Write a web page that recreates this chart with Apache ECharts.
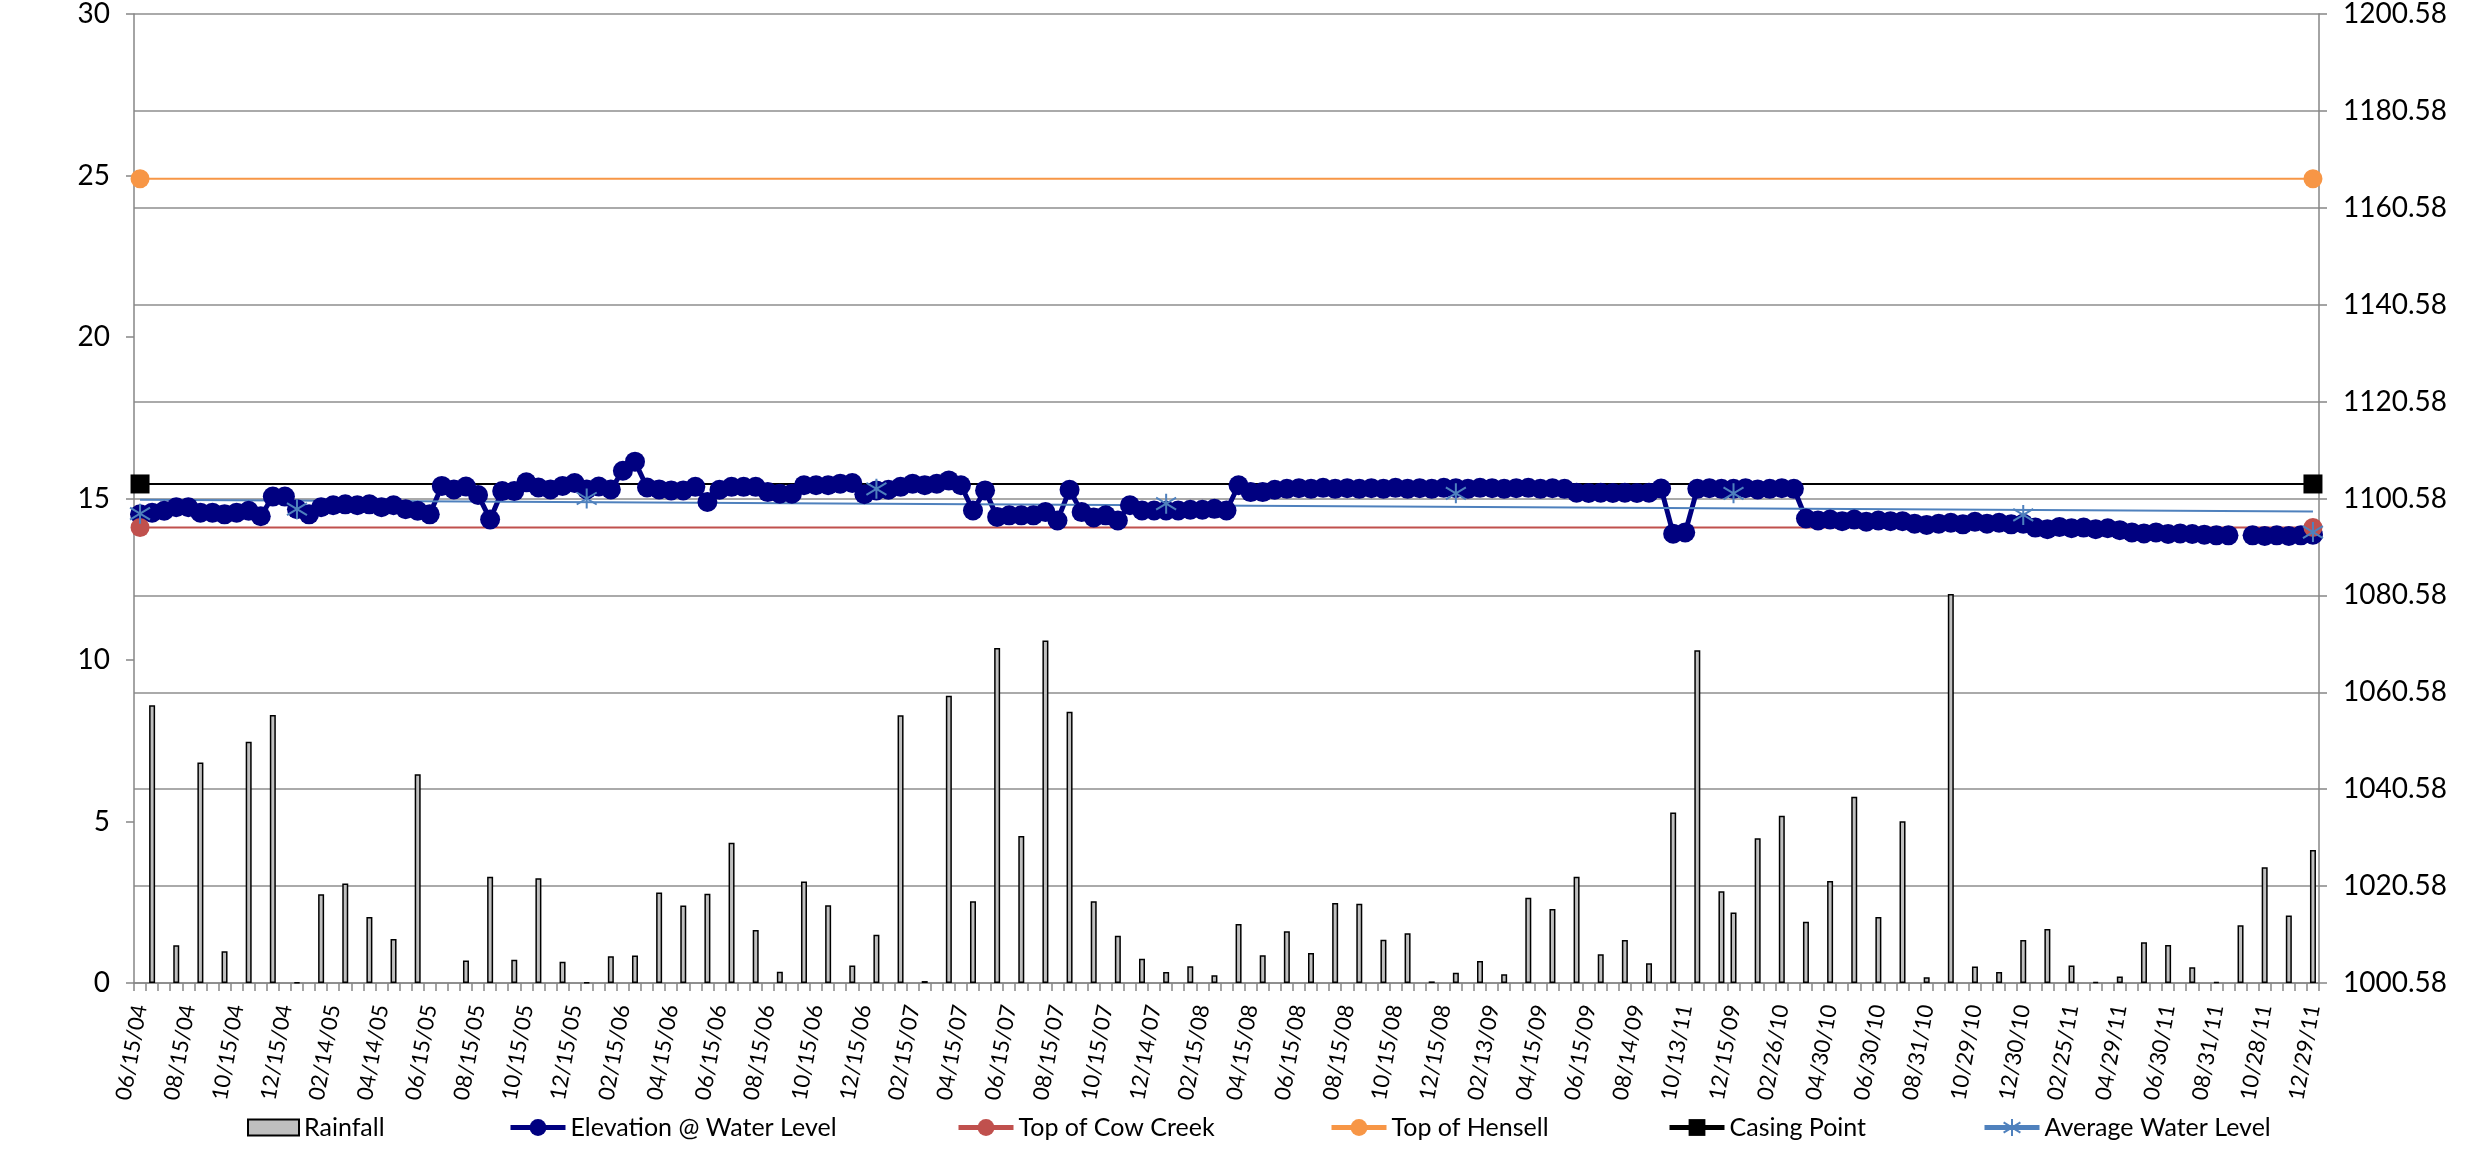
<!DOCTYPE html>
<html><head><meta charset="utf-8">
<script src="https://cdn.jsdelivr.net/npm/echarts@6/dist/echarts.min.js"></script>
<style>html,body{margin:0;padding:0;background:#fff}#c{width:2481px;height:1175px}</style>
</head><body><div id="c"></div>
<script>
const dates = [
"06/15/04","06/30/04","07/15/04","07/30/04","08/15/04","08/31/04","09/15/04","09/30/04",
"10/15/04","10/29/04","11/15/04","11/30/04","12/15/04","12/30/04","01/14/05","01/31/05",
"02/14/05","02/28/05","03/15/05","03/31/05","04/14/05","04/29/05","05/13/05","05/31/05",
"06/15/05","06/30/05","07/15/05","07/29/05","08/15/05","08/31/05","09/15/05","09/30/05",
"10/15/05","10/31/05","11/15/05","11/30/05","12/15/05","12/30/05","01/13/06","01/31/06",
"02/15/06","02/28/06","03/15/06","03/31/06","04/15/06","04/28/06","05/15/06","05/31/06",
"06/15/06","06/30/06","07/14/06","07/31/06","08/15/06","08/31/06","09/15/06","09/29/06",
"10/15/06","10/31/06","11/15/06","11/30/06","12/15/06","12/29/06","01/15/07","01/31/07",
"02/15/07","02/28/07","03/15/07","03/30/07","04/15/07","04/30/07","05/15/07","05/31/07",
"06/15/07","06/29/07","07/13/07","07/31/07","08/15/07","08/31/07","09/14/07","09/28/07",
"10/15/07","10/31/07","11/15/07","11/30/07","12/14/07","12/31/07","01/15/08","01/31/08",
"02/15/08","02/29/08","03/14/08","03/31/08","04/15/08","04/30/08","05/15/08","05/30/08",
"06/15/08","06/30/08","07/15/08","07/31/08","08/15/08","08/29/08","09/15/08","09/30/08",
"10/15/08","10/31/08","11/14/08","11/28/08","12/15/08","12/31/08","01/15/09","01/30/09",
"02/13/09","02/27/09","03/13/09","03/31/09","04/15/09","04/30/09","05/15/09","05/29/09",
"06/15/09","06/30/09","07/15/09","07/31/09","08/14/09","08/31/09","09/15/09","09/30/09",
"10/13/11","10/30/09","11/13/09","11/30/09","12/15/09","12/31/09","01/15/10","01/29/10",
"02/26/10","03/15/10","03/31/10","04/15/10","04/30/10","05/14/10","05/28/10","06/15/10",
"06/30/10","07/15/10","07/30/10","08/13/10","08/31/10","09/15/10","09/30/10","10/15/10",
"10/29/10","11/15/10","11/30/10","12/15/10","12/30/10","01/14/11","01/31/11","02/15/11",
"02/25/11","03/15/11","03/31/11","04/15/11","04/29/11","05/13/11","05/31/11","06/15/11",
"06/30/11","07/15/11","07/29/11","08/15/11","08/31/11","09/15/11","09/30/11","10/14/11",
"10/28/11","11/15/11","11/30/11","12/15/11","12/29/11"];

const rainfall = [
null,8.6,null,1.17,null,6.83,null,0.98,null,7.47,
null,8.3,null,0.02,null,2.75,null,3.08,null,2.04,
null,1.36,null,6.46,null,null,null,0.7,null,3.29,
null,0.72,null,3.24,null,0.66,null,0.02,null,0.83,
null,0.85,null,2.8,null,2.4,null,2.76,null,4.34,
null,1.64,null,0.35,null,3.14,null,2.41,null,0.54,
null,1.49,null,8.29,null,0.06,null,8.89,null,2.53,
null,10.37,null,4.55,null,10.6,null,8.4,null,2.53,
null,1.46,null,0.75,null,0.34,null,0.52,null,0.24,
null,1.83,null,0.86,null,1.6,null,0.93,null,2.48,
null,2.45,null,1.34,null,1.54,null,0.05,null,0.32,
null,0.68,null,0.27,null,2.64,null,2.29,null,3.29,
null,0.89,null,1.33,null,0.61,null,5.28,null,10.3,
null,2.84,2.18,null,4.48,null,5.18,null,1.9,null,
3.16,null,5.77,null,2.04,null,5.01,null,0.18,null,
12.04,null,0.51,null,0.34,null,1.33,null,1.67,null,
0.54,null,0.03,null,0.2,null,1.26,null,1.18,null,
0.49,null,0.03,null,1.79,null,3.58,null,2.09,null,
4.12];

const elevation = [
1097.31,1097.65,1098.05,1098.78,1098.78,1097.65,1097.65,1097.31,1097.65,1098.05,
1096.91,1100.98,1100.98,1098.38,1097.31,1098.78,1099.18,1099.38,1099.18,1099.38,
1098.78,1099.18,1098.38,1098.05,1097.31,1103.18,1102.45,1103.05,1101.31,1096.25,
1102.11,1102.11,1103.91,1102.85,1102.45,1103.18,1103.78,1102.45,1103.05,1102.45,
1106.31,1108.18,1102.85,1102.45,1102.25,1102.25,1102.98,1099.85,1102.38,1102.98,
1102.98,1102.98,1101.91,1101.58,1101.58,1103.31,1103.31,1103.31,1103.65,1103.78,
1101.45,1102.25,1102.38,1102.98,1103.65,1103.31,1103.65,1104.31,1103.31,1098.11,
1102.25,1096.78,1097.11,1097.11,1097.11,1097.78,1096.05,1102.38,1097.78,1096.65,
1097.11,1096.05,1099.18,1098.11,1098.11,1098.11,1098.11,1098.25,1098.25,1098.45,
1098.11,1103.31,1101.91,1101.91,1102.38,1102.58,1102.71,1102.58,1102.78,1102.58,
1102.71,1102.58,1102.71,1102.58,1102.78,1102.58,1102.71,1102.58,1102.78,1102.71,
1102.58,1102.78,1102.71,1102.58,1102.71,1102.78,1102.58,1102.71,1102.58,1101.78,
1101.71,1101.78,1101.71,1101.78,1101.71,1101.78,1102.65,1093.31,1093.58,1102.58,
1102.71,1102.58,1102.58,1102.71,1102.45,1102.58,1102.71,1102.58,1096.45,1096.05,
1096.25,1095.91,1096.25,1095.78,1096.05,1095.91,1095.91,1095.38,1095.11,1095.38,
1095.58,1095.25,1095.78,1095.38,1095.58,1095.25,1095.38,1094.58,1094.25,1094.71,
1094.45,1094.58,1094.25,1094.45,1094.05,1093.58,1093.38,1093.58,1093.25,1093.38,
1093.25,1093.11,1092.98,1092.98,null,1092.98,1092.85,1092.98,1092.85,1092.98,
1093.11];

const avgIdx = [0,13,37,61,85,109,132,156,180];
const avgLevel = [1097.45,1098.38,1100.58,1102.58,1099.51,1101.65,1101.65,1097.18,1093.65];

const topCowCreek = 1094.58;
const topHensell = 1166.58;
const casingPoint = 1103.58;

const rainTicks = {min:0, max:30, interval:5};
const elevTicks = {min:1000.58, max:1200.58, interval:20};

const names = ['Rainfall','Elevation @ Water Level','Top of Cow Creek','Top of Hensell','Casing Point','Average Water Level'];
const colors = {rain:'#BFBFBF', elev:'#000080', cow:'#C0504D', hen:'#F79646', casing:'#000000', avg:'#4F81BD'};

const N = dates.length;
function ends(v){ const a = new Array(N).fill(null); a[0]=v; a[N-1]=v; return a; }
const avgData = new Array(N).fill(null);
avgIdx.forEach((i,k)=>{ avgData[i]=avgLevel[k]; });
// linear trendline of the average series (least squares)
const mx = avgIdx.reduce((s,v)=>s+v,0)/avgIdx.length;
const my = avgLevel.reduce((s,v)=>s+v,0)/avgLevel.length;
let sxy=0,sxx=0; avgIdx.forEach((x,k)=>{sxy+=(x-mx)*(avgLevel[k]-my); sxx+=(x-mx)*(x-mx);});
const slope = sxy/sxx, icpt = my - slope*mx;
const trend = new Array(N).fill(null);
trend[0] = icpt; trend[N-1] = icpt + slope*(N-1);

const FONT = 'Lato';
const axisGrey = '#868686';
const star = 'path://M10,0 L10,20 M1.5,4 L18.5,16 M1.5,16 L18.5,4';

const chart = echarts.init(document.getElementById('c'), null, {renderer:'canvas'});
const legendLefts = [247,508,956,1329,1667,1982];
const legends = names.map((n,i)=>({
  data:[n], left:legendLefts[i], top:1115, padding:0, orient:'horizontal',
  itemWidth: i===0?51:55, itemHeight: i===0?16:21,
  icon: i===0?'rect':undefined,
  lineStyle: i===0?undefined:{width:5},
  textStyle:{fontFamily:FONT, fontSize:25, color:'#000'},
  selectedMode:false
}));

chart.setOption({
  animation:false,
  backgroundColor:'#fff',
  grid:{left:134, right:162, top:14, bottom:192, containLabel:false},
  legend: legends,
  xAxis:{
    type:'category', data:dates, boundaryGap:true,
    axisLine:{lineStyle:{color:axisGrey, width:1.5}},
    axisTick:{show:true, interval:0, length:8, lineStyle:{color:axisGrey, width:1.5}},
    axisLabel:{interval:3, rotate:80, margin:22, fontFamily:FONT, fontSize:22, color:'#000'},
    splitLine:{show:false}
  },
  yAxis:[
    {type:'value', position:'left', min:rainTicks.min, max:rainTicks.max, interval:rainTicks.interval,
     axisLine:{show:true, lineStyle:{color:axisGrey, width:1.5}},
     axisTick:{show:true, length:8, lineStyle:{color:axisGrey, width:1.5}},
     axisLabel:{margin:24, fontFamily:FONT, fontSize:28, color:'#000'},
     splitLine:{show:false}},
    {type:'value', position:'right', min:elevTicks.min, max:elevTicks.max, interval:elevTicks.interval,
     alignTicks:false,
     axisLine:{show:true, lineStyle:{color:axisGrey, width:1.5}},
     axisTick:{show:true, length:8, lineStyle:{color:axisGrey, width:1.5}},
     axisLabel:{margin:24, fontFamily:FONT, fontSize:28, color:'#000', formatter:v=>Number(v).toFixed(2)},
     splitLine:{show:true, lineStyle:{color:'#8E8E8E', width:1.5}}}
  ],
  series:[
    {name:names[0], type:'bar', yAxisIndex:0, data:rainfall, barWidth:6,
     itemStyle:{color:colors.rain, borderColor:'#000', borderWidth:1.5}},
    {name:names[1], type:'line', yAxisIndex:1, data:elevation, connectNulls:false,
     symbol:'circle', symbolSize:20, showAllSymbol:true,
     lineStyle:{color:colors.elev, width:5}, itemStyle:{color:colors.elev}},
    {name:names[2], type:'line', yAxisIndex:1, data:ends(topCowCreek), connectNulls:true,
     symbol:'circle', symbolSize:19, lineStyle:{color:colors.cow, width:2}, itemStyle:{color:colors.cow}},
    {name:names[3], type:'line', yAxisIndex:1, data:ends(topHensell), connectNulls:true,
     symbol:'circle', symbolSize:19, lineStyle:{color:colors.hen, width:2}, itemStyle:{color:colors.hen}},
    {name:names[4], type:'line', yAxisIndex:1, data:ends(casingPoint), connectNulls:true,
     symbol:'rect', symbolSize:19, lineStyle:{color:colors.casing, width:2}, itemStyle:{color:colors.casing}},
    {name:'Average trend', type:'line', yAxisIndex:1, data:trend, connectNulls:true,
     symbol:'none', lineStyle:{color:colors.avg, width:2}, silent:true},
    {name:names[5], type:'line', yAxisIndex:1, data:avgData, connectNulls:false,
     symbol:star, symbolSize:20, showAllSymbol:true,
     lineStyle:{color:colors.avg, width:3},
     itemStyle:{color:colors.avg, borderColor:colors.avg, borderWidth:2}}
  ]
});
</script></body></html>
